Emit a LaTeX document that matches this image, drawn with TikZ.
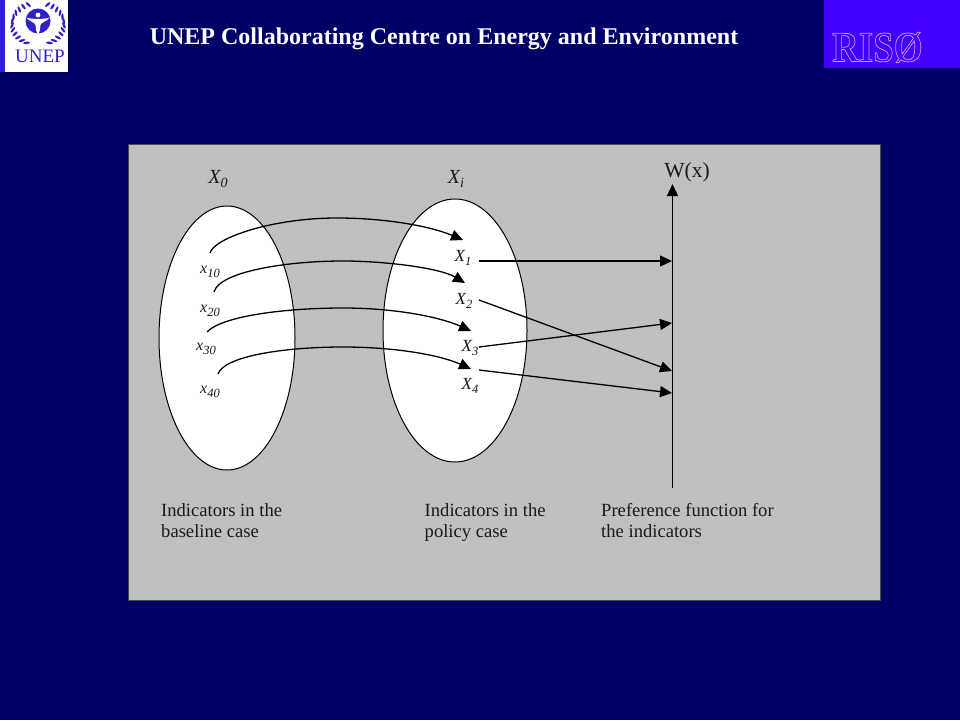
\documentclass[tikz,border=0pt]{standalone}
\usepackage{fontspec}
\setmainfont{Liberation Serif}
\newfontfamily\risofont[FakeBold=1.8]{Liberation Serif Bold}
\usetikzlibrary{arrows.meta,calc,shapes.geometric}
\definecolor{slidebg}{HTML}{000066}
\definecolor{panelgrey}{HTML}{C0C0C0}
\definecolor{logoblue}{HTML}{3020C8}
\definecolor{risoblue}{HTML}{4400FF}
\newcommand{\sublab}[4]{{\fontsize{#3}{#3}\selectfont\itshape #1\raisebox{-0.22em}{\fontsize{#4}{#4}\selectfont #2}}}
\tikzset{
  x=1pt,y=-1pt,
  ell/.style={draw=black,fill=white,line width=1pt,ellipse,inner sep=0pt},
  conn/.style={draw=black,line width=1.3pt,-{Triangle[length=12pt,width=11pt]}},
  sym/.style={inner sep=0pt,text=black!90},
  captext/.style={inner sep=0pt,anchor=north west,align=left,text=black!90,font=\fontsize{18.6}{21.5}\selectfont},
  leaf/.style={fill=logoblue,draw=none},
}
\begin{document}
\begin{tikzpicture}
\useasboundingbox (0,0) rectangle (960,720);
\fill[slidebg] (0,0) rectangle (960,720);
% UNEP logo
\fill[logoblue] (0,0) rectangle (5,72);
\fill[white] (5,0) rectangle (68,72);
\foreach \a in {112,124,...,244}{
  \fill[leaf] ({38+26*cos(\a)},{24-21*sin(\a)}) ellipse [x radius=3.4pt,y radius=1.2pt,rotate=-\a+70];
  \fill[leaf] ({38-26*cos(\a)},{24-21*sin(\a)}) ellipse [x radius=3.4pt,y radius=1.2pt,rotate=\a-70];
}
\fill[logoblue] (38,21) circle [radius=12.5];
\fill[white] (38,15) circle [radius=2.4];
\fill[white] (26,17.5) .. controls (32,19.5) and (44,19.5) .. (50,17.5) .. controls (45,22.5) and (41.5,22) .. (40.5,25) .. controls (40,29) and (40,32) .. (38,35) .. controls (36,32) and (36,29) .. (35.5,25) .. controls (34.5,22) and (31,22.5) .. (26,17.5) -- cycle;
\node[inner sep=0pt,text=logoblue,font=\fontsize{19}{19}\selectfont] (uneptext) at (40,56.5) {UNEP};
% Riso logo
\fill[risoblue] (824,0) rectangle (960,68);
\node[inner sep=0pt,anchor=base west,xscale=0.86] (risotext) at (832,61.5) {\textcolor{risoblue}{\special{pdf:code 0.78 0.62 1 RG}\fontsize{43}{43}\risofont RISØ}};
% Title
\node[inner sep=0pt,text=white,font=\fontsize{24}{24}\selectfont\bfseries] (title) at (444,39) {UNEP Collaborating Centre on Energy and Environment};
% Panel
\draw[fill=panelgrey,draw=black!70,line width=0.7pt] (128.5,144.5) rectangle (880.5,600);
% Ellipses
\node[ell,minimum width=136pt,minimum height=264pt] (setA) at (227,338) {};
\node[ell,minimum width=144pt,minimum height=263pt] (setB) at (455,330.5) {};
% Headings
\node[sym] (x0) at (218,179) {\sublab{X}{0}{20}{14}};
\node[sym] (xi) at (456,179) {\sublab{X}{i}{20}{14}};
\node[sym,font=\fontsize{21.5}{21.5}\selectfont] (wx) at (687,172) {W(x)};
% Labels
\node[sym] (x10) at (210,272) {\sublab{x}{10}{16}{12.5}};
\node[sym] (x20) at (210,311) {\sublab{x}{20}{16}{12.5}};
\node[sym] (x30) at (206,349) {\sublab{x}{30}{16}{12.5}};
\node[sym] (x40) at (210,392) {\sublab{x}{40}{16}{12.5}};
\node[sym] (X1) at (463,258) {\sublab{X}{1}{17}{12.5}};
\node[sym] (X2) at (464,301) {\sublab{X}{2}{17}{12.5}};
\node[sym] (X3) at (470,348) {\sublab{X}{3}{17}{12.5}};
\node[sym] (X4) at (470,386) {\sublab{X}{4}{17}{12.5}};
% Connector ends
\coordinate (a1) at (210,253);
\coordinate (a2) at (214,292);
\coordinate (a3) at (207,332);
\coordinate (a4) at (218,374);
\coordinate (m1) at (337,218);
\coordinate (m2) at (343,261);
\coordinate (m3) at (343,308);
\coordinate (m4) at (343,347);
\coordinate (b1) at (463,240);
\coordinate (b2) at (465,283);
\coordinate (b3) at (471,331);
\coordinate (b4) at (471,369);
\coordinate (s1) at (479,261);
\coordinate (s2) at (479,300);
\coordinate (s3) at (479,347);
\coordinate (s4) at (479,370);
\coordinate (t1) at (672,261);
\coordinate (t2) at (672,371);
\coordinate (t3) at (672,323);
\coordinate (t4) at (672,393);
\coordinate (axisbot) at (672.5,488);
\coordinate (axistop) at (672.5,184);
% Curved connectors
\draw[conn] (a1) .. controls (214,238) and (272,218) .. (m1) .. controls (385,218) and (430,226) .. (b1);
\draw[conn] (a2) .. controls (219,272) and (285,261) .. (m2) .. controls (385,261) and (440,268) .. (b2);
\draw[conn] (a3) .. controls (222,316) and (285,308) .. (m3) .. controls (395,308) and (440,317) .. (b3);
\draw[conn] (a4) .. controls (224,356) and (285,347) .. (m4) .. controls (395,347) and (440,355) .. (b4);
% Straight connectors
\draw[conn] (s1) -- (t1);
\draw[conn] (s2) -- (t2);
\draw[conn] (s3) -- (t3);
\draw[conn] (s4) -- (t4);
\draw[conn] (axisbot) -- (axistop);
% Captions
\node[captext] (c1) at (161,503) {Indicators in the\\baseline case};
\node[captext] (c2) at (424.5,503) {Indicators in the\\policy case};
\node[captext] (c3) at (601,503) {Preference function for\\the indicators};
\end{tikzpicture}
\end{document}
